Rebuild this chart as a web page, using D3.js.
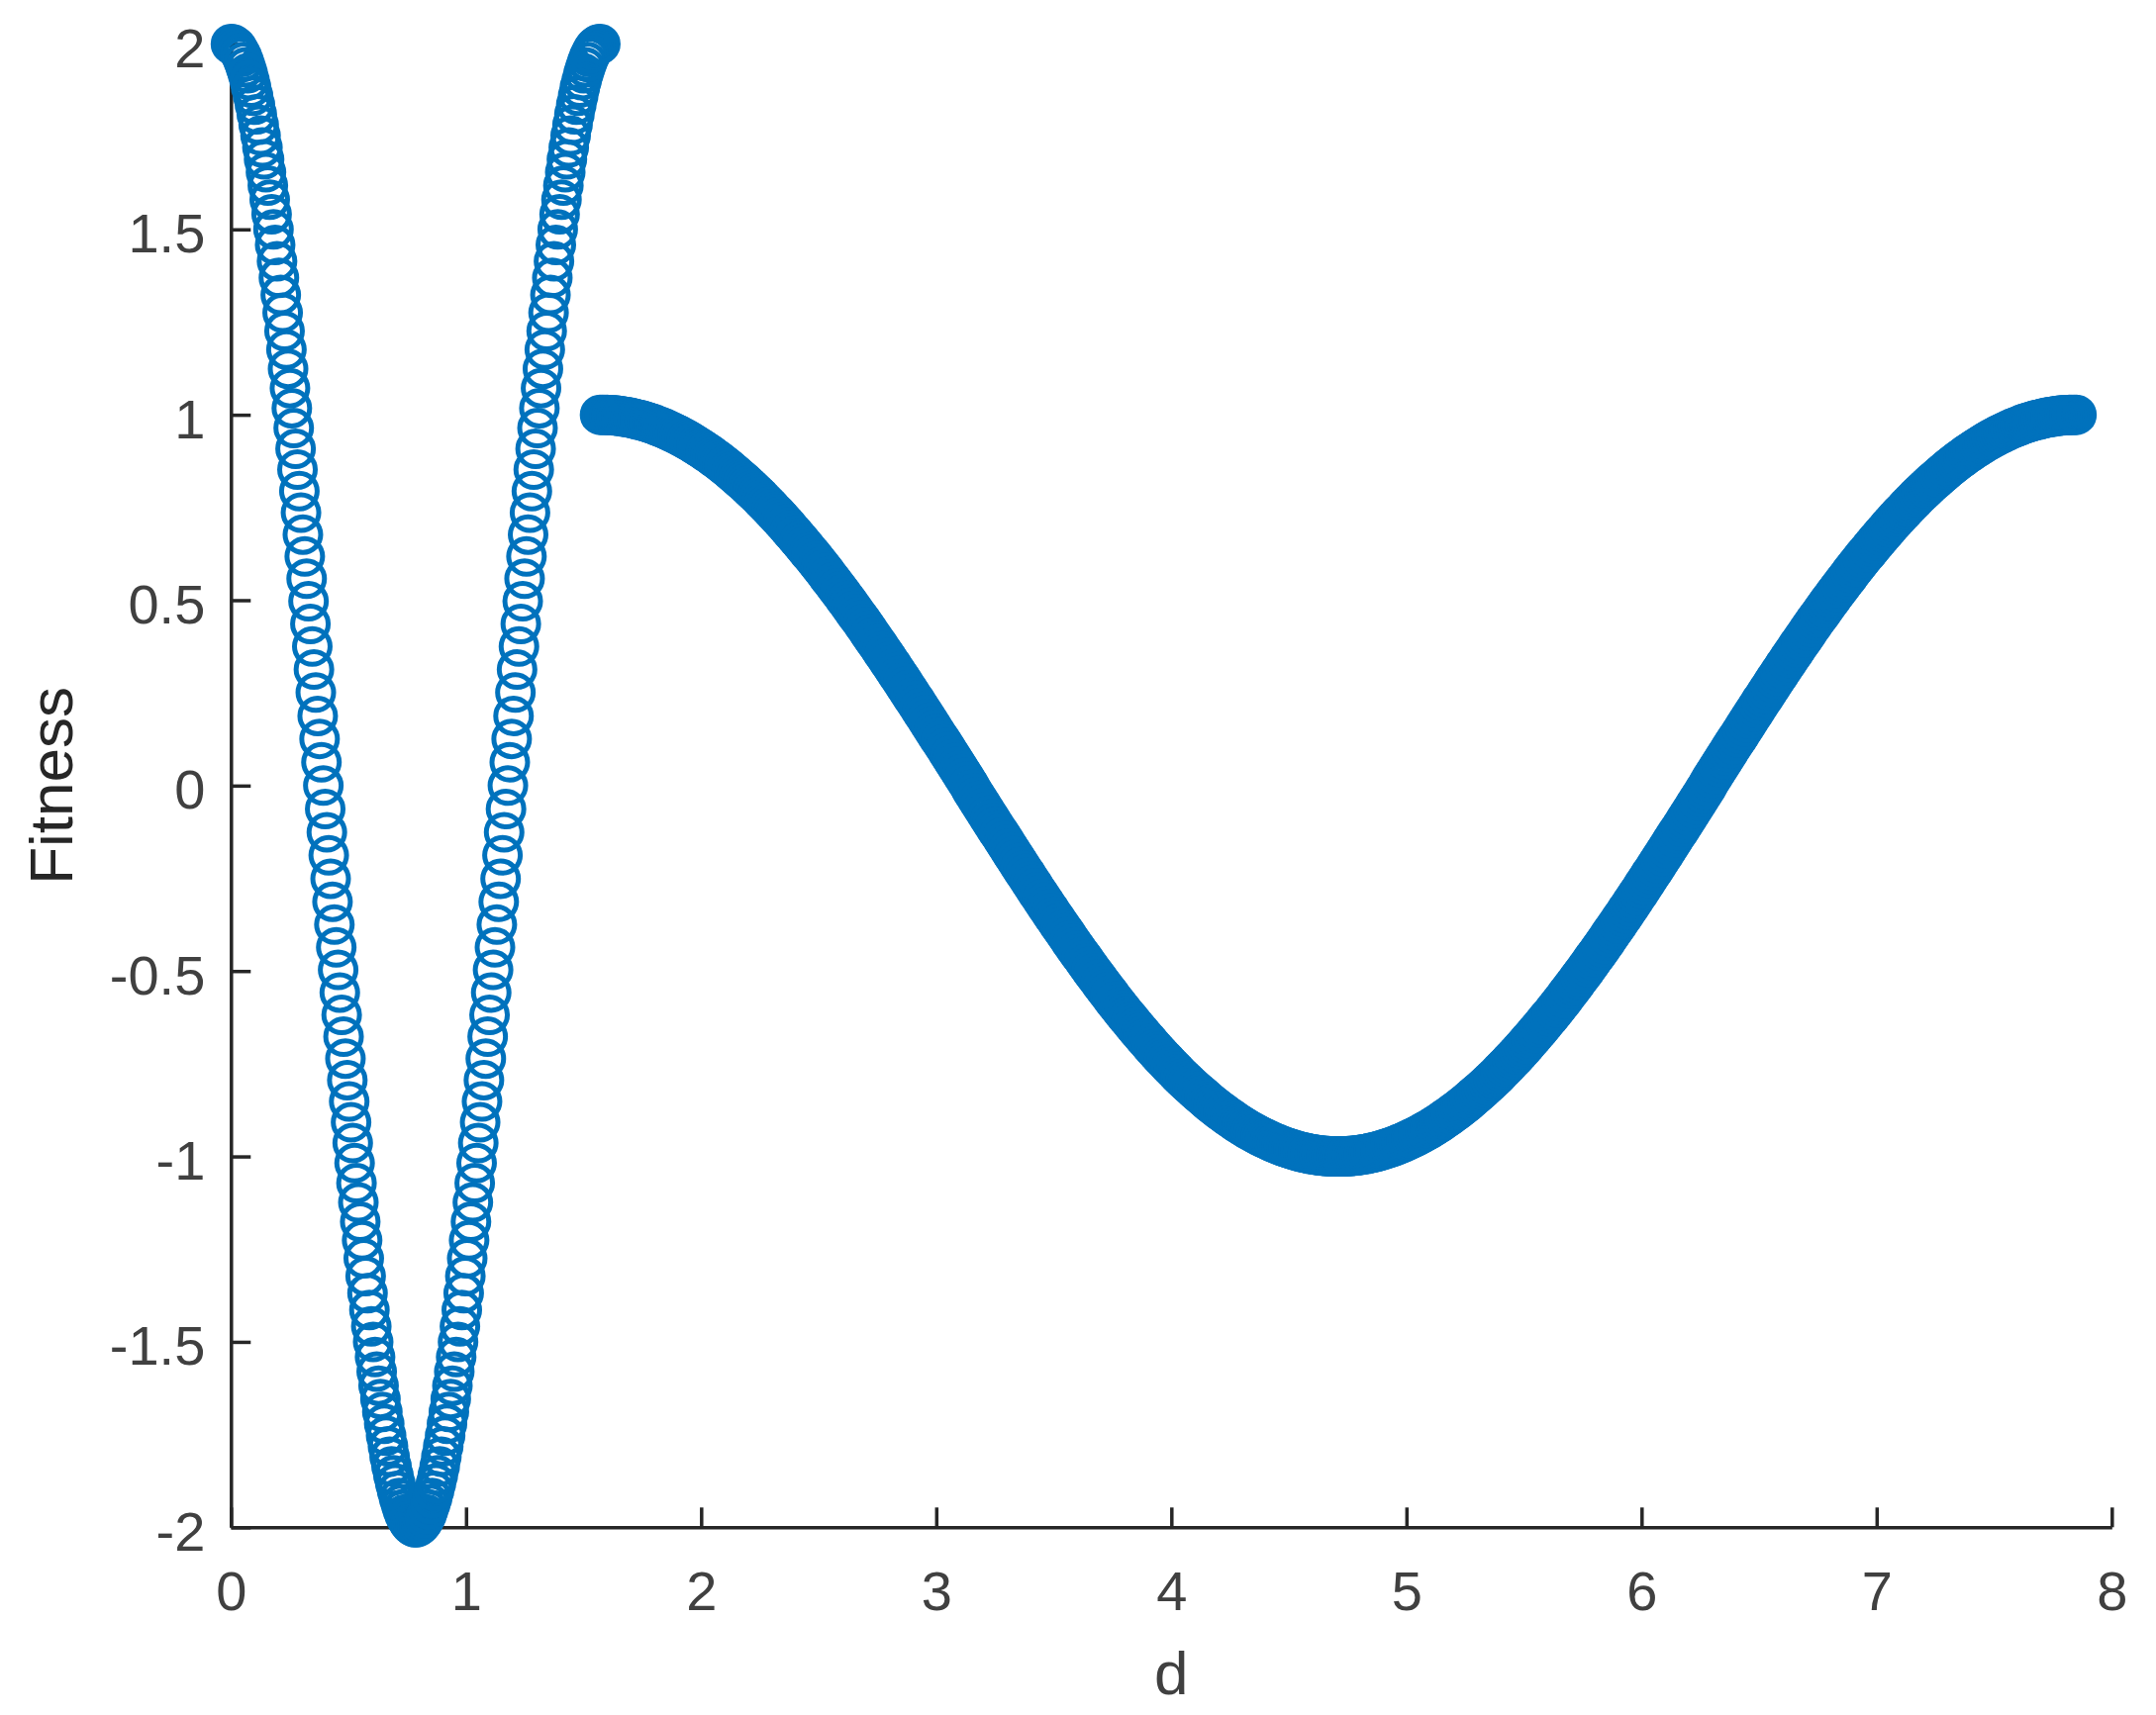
<!DOCTYPE html>
<html>
<head>
<meta charset="utf-8">
<script src="https://cdn.jsdelivr.net/npm/d3@7"></script>
<style>
  body { margin: 0; background: #fff; }
  svg { display: block; }
</style>
</head>
<body>
<div id="chart"></div>
<script>
// ticks
var xTicks = [0, 1, 2, 3, 4, 5, 6, 7, 8];
var yTicks = [-2, -1.5, -1, -0.5, 0, 0.5, 1, 1.5, 2];

// left series (open circles, d from 0 to pi/2)
var dLeft = [
  0,.008,.016,.024,.031,.039,.047,.055,.063,.071,
  .079,.086,.094,.102,.11,.118,.126,.134,.141,.149,
  .157,.165,.173,.181,.188,.196,.204,.212,.22,.228,
  .236,.243,.251,.259,.267,.275,.283,.291,.298,.306,
  .314,.322,.33,.338,.346,.353,.361,.369,.377,.385,
  .393,.401,.408,.416,.424,.432,.44,.448,.456,.463,
  .471,.479,.487,.495,.503,.511,.518,.526,.534,.542,
  .55,.558,.565,.573,.581,.589,.597,.605,.613,.62,
  .628,.636,.644,.652,.66,.668,.675,.683,.691,.699,
  .707,.715,.723,.73,.738,.746,.754,.762,.77,.778,
  .785,.793,.801,.809,.817,.825,.833,.84,.848,.856,
  .864,.872,.88,.888,.895,.903,.911,.919,.927,.935,
  .942,.95,.958,.966,.974,.982,.99,.997,1.005,1.013,
  1.021,1.029,1.037,1.045,1.052,1.06,1.068,1.076,1.084,1.092,
  1.1,1.107,1.115,1.123,1.131,1.139,1.147,1.155,1.162,1.17,
  1.178,1.186,1.194,1.202,1.21,1.217,1.225,1.233,1.241,1.249,
  1.257,1.264,1.272,1.28,1.288,1.296,1.304,1.312,1.319,1.327,
  1.335,1.343,1.351,1.359,1.367,1.374,1.382,1.39,1.398,1.406,
  1.414,1.422,1.429,1.437,1.445,1.453,1.461,1.469,1.477,1.484,
  1.492,1.5,1.508,1.516,1.524,1.532,1.539,1.547,1.555,1.563,
  1.571
];
var fitLeft = [
  2,1.999,1.996,1.991,1.984,1.975,1.965,1.952,1.937,1.921,
  1.902,1.882,1.86,1.836,1.81,1.782,1.753,1.721,1.689,1.654,
  1.618,1.58,1.541,1.5,1.458,1.414,1.369,1.323,1.275,1.226,
  1.176,1.124,1.072,1.018,.964,.908,.852,.794,.736,.677,
  .618,.558,.497,.436,.375,.313,.251,.188,.126,.063,
  0,-.063,-.126,-.188,-.251,-.313,-.375,-.436,-.497,-.558,
  -.618,-.677,-.736,-.794,-.852,-.908,-.964,-1.018,-1.072,-1.124,
  -1.176,-1.226,-1.275,-1.323,-1.369,-1.414,-1.458,-1.5,-1.541,-1.58,
  -1.618,-1.654,-1.689,-1.721,-1.753,-1.782,-1.81,-1.836,-1.86,-1.882,
  -1.902,-1.921,-1.937,-1.952,-1.965,-1.975,-1.984,-1.991,-1.996,-1.999,
  -2,-1.999,-1.996,-1.991,-1.984,-1.975,-1.965,-1.952,-1.937,-1.921,
  -1.902,-1.882,-1.86,-1.836,-1.81,-1.782,-1.753,-1.721,-1.689,-1.654,
  -1.618,-1.58,-1.541,-1.5,-1.458,-1.414,-1.369,-1.323,-1.275,-1.226,
  -1.176,-1.124,-1.072,-1.018,-.964,-.908,-.852,-.794,-.736,-.677,
  -.618,-.558,-.497,-.436,-.375,-.313,-.251,-.188,-.126,-.063,
  0,.063,.126,.188,.251,.313,.375,.436,.497,.558,
  .618,.677,.736,.794,.852,.908,.964,1.018,1.072,1.124,
  1.176,1.226,1.275,1.323,1.369,1.414,1.458,1.5,1.541,1.58,
  1.618,1.654,1.689,1.721,1.753,1.782,1.81,1.836,1.86,1.882,
  1.902,1.921,1.937,1.952,1.965,1.975,1.984,1.991,1.996,1.999,
  2
];

// right series (d from pi/2 to 5pi/2)
var dRight = [
  1.57,1.58,1.59,1.6,1.61,1.62,1.63,1.64,1.65,1.66,
  1.67,1.68,1.69,1.7,1.71,1.72,1.73,1.74,1.75,1.76,
  1.77,1.78,1.79,1.8,1.81,1.82,1.83,1.84,1.85,1.86,
  1.87,1.88,1.89,1.9,1.91,1.92,1.93,1.94,1.95,1.96,
  1.97,1.98,1.99,2,2.01,2.02,2.03,2.04,2.05,2.06,
  2.07,2.08,2.09,2.1,2.11,2.12,2.13,2.14,2.15,2.16,
  2.17,2.18,2.19,2.2,2.21,2.22,2.23,2.24,2.25,2.26,
  2.27,2.28,2.29,2.3,2.31,2.32,2.33,2.34,2.35,2.36,
  2.37,2.38,2.39,2.4,2.41,2.42,2.43,2.44,2.45,2.46,
  2.47,2.48,2.49,2.5,2.51,2.52,2.53,2.54,2.55,2.56,
  2.57,2.58,2.59,2.6,2.61,2.62,2.63,2.64,2.65,2.66,
  2.67,2.68,2.69,2.7,2.71,2.72,2.73,2.74,2.75,2.76,
  2.77,2.78,2.79,2.8,2.81,2.82,2.83,2.84,2.85,2.86,
  2.87,2.88,2.89,2.9,2.91,2.92,2.93,2.94,2.95,2.96,
  2.97,2.98,2.99,3,3.01,3.02,3.03,3.04,3.05,3.06,
  3.07,3.08,3.09,3.1,3.11,3.12,3.13,3.14,3.15,3.16,
  3.17,3.18,3.19,3.2,3.21,3.22,3.23,3.24,3.25,3.26,
  3.27,3.28,3.29,3.3,3.31,3.32,3.33,3.34,3.35,3.36,
  3.37,3.38,3.39,3.4,3.41,3.42,3.43,3.44,3.45,3.46,
  3.47,3.48,3.49,3.5,3.51,3.52,3.53,3.54,3.55,3.56,
  3.57,3.58,3.59,3.6,3.61,3.62,3.63,3.64,3.65,3.66,
  3.67,3.68,3.69,3.7,3.71,3.72,3.73,3.74,3.75,3.76,
  3.77,3.78,3.79,3.8,3.81,3.82,3.83,3.84,3.85,3.86,
  3.87,3.88,3.89,3.9,3.91,3.92,3.93,3.94,3.95,3.96,
  3.97,3.98,3.99,4,4.01,4.02,4.03,4.04,4.05,4.06,
  4.07,4.08,4.09,4.1,4.11,4.12,4.13,4.14,4.15,4.16,
  4.17,4.18,4.19,4.2,4.21,4.22,4.23,4.24,4.25,4.26,
  4.27,4.28,4.29,4.3,4.31,4.32,4.33,4.34,4.35,4.36,
  4.37,4.38,4.39,4.4,4.41,4.42,4.43,4.44,4.45,4.46,
  4.47,4.48,4.49,4.5,4.51,4.52,4.53,4.54,4.55,4.56,
  4.57,4.58,4.59,4.6,4.61,4.62,4.63,4.64,4.65,4.66,
  4.67,4.68,4.69,4.7,4.71,4.72,4.73,4.74,4.75,4.76,
  4.77,4.78,4.79,4.8,4.81,4.82,4.83,4.84,4.85,4.86,
  4.87,4.88,4.89,4.9,4.91,4.92,4.93,4.94,4.95,4.96,
  4.97,4.98,4.99,5,5.01,5.02,5.03,5.04,5.05,5.06,
  5.07,5.08,5.09,5.1,5.11,5.12,5.13,5.14,5.15,5.16,
  5.17,5.18,5.19,5.2,5.21,5.22,5.23,5.24,5.25,5.26,
  5.27,5.28,5.29,5.3,5.31,5.32,5.33,5.34,5.35,5.36,
  5.37,5.38,5.39,5.4,5.41,5.42,5.43,5.44,5.45,5.46,
  5.47,5.48,5.49,5.5,5.51,5.52,5.53,5.54,5.55,5.56,
  5.57,5.58,5.59,5.6,5.61,5.62,5.63,5.64,5.65,5.66,
  5.67,5.68,5.69,5.7,5.71,5.72,5.73,5.74,5.75,5.76,
  5.77,5.78,5.79,5.8,5.81,5.82,5.83,5.84,5.85,5.86,
  5.87,5.88,5.89,5.9,5.91,5.92,5.93,5.94,5.95,5.96,
  5.97,5.98,5.99,6,6.01,6.02,6.03,6.04,6.05,6.06,
  6.07,6.08,6.09,6.1,6.11,6.12,6.13,6.14,6.15,6.16,
  6.17,6.18,6.19,6.2,6.21,6.22,6.23,6.24,6.25,6.26,
  6.27,6.28,6.29,6.3,6.31,6.32,6.33,6.34,6.35,6.36,
  6.37,6.38,6.39,6.4,6.41,6.42,6.43,6.44,6.45,6.46,
  6.47,6.48,6.49,6.5,6.51,6.52,6.53,6.54,6.55,6.56,
  6.57,6.58,6.59,6.6,6.61,6.62,6.63,6.64,6.65,6.66,
  6.67,6.68,6.69,6.7,6.71,6.72,6.73,6.74,6.75,6.76,
  6.77,6.78,6.79,6.8,6.81,6.82,6.83,6.84,6.85,6.86,
  6.87,6.88,6.89,6.9,6.91,6.92,6.93,6.94,6.95,6.96,
  6.97,6.98,6.99,7,7.01,7.02,7.03,7.04,7.05,7.06,
  7.07,7.08,7.09,7.1,7.11,7.12,7.13,7.14,7.15,7.16,
  7.17,7.18,7.19,7.2,7.21,7.22,7.23,7.24,7.25,7.26,
  7.27,7.28,7.29,7.3,7.31,7.32,7.33,7.34,7.35,7.36,
  7.37,7.38,7.39,7.4,7.41,7.42,7.43,7.44,7.45,7.46,
  7.47,7.48,7.49,7.5,7.51,7.52,7.53,7.54,7.55,7.56,
  7.57,7.58,7.59,7.6,7.61,7.62,7.63,7.64,7.65,7.66,
  7.67,7.68,7.69,7.7,7.71,7.72,7.73,7.74,7.75,7.76,
  7.77,7.78,7.79,7.8,7.81,7.82,7.83,7.84,7.85
];
var fitRight = [
  1,1,1,1,.999,.999,.998,.998,.997,.996,
  .995,.994,.993,.992,.99,.989,.987,.986,.984,.982,
  .98,.978,.976,.974,.971,.969,.966,.964,.961,.958,
  .955,.952,.949,.946,.943,.939,.936,.932,.929,.925,
  .921,.917,.913,.909,.905,.9,.896,.892,.887,.882,
  .878,.873,.868,.863,.858,.853,.847,.842,.836,.831,
  .825,.82,.814,.808,.802,.796,.79,.784,.778,.771,
  .765,.758,.752,.745,.738,.732,.725,.718,.711,.704,
  .697,.689,.682,.675,.667,.66,.652,.645,.637,.629,
  .622,.614,.606,.598,.59,.582,.574,.565,.557,.549,
  .54,.532,.523,.515,.506,.498,.489,.48,.471,.462,
  .454,.445,.436,.427,.418,.408,.399,.39,.381,.372,
  .362,.353,.344,.334,.325,.315,.306,.296,.287,.277,
  .267,.258,.248,.238,.229,.219,.209,.199,.19,.18,
  .17,.16,.15,.14,.13,.121,.111,.101,.091,.081,
  .071,.061,.051,.041,.031,.021,.011,.001,-.011,-.021,
  -.031,-.041,-.051,-.061,-.071,-.081,-.091,-.101,-.111,-.121,
  -.13,-.14,-.15,-.16,-.17,-.18,-.19,-.199,-.209,-.219,
  -.229,-.238,-.248,-.258,-.267,-.277,-.287,-.296,-.306,-.315,
  -.325,-.334,-.344,-.353,-.362,-.372,-.381,-.39,-.399,-.408,
  -.418,-.427,-.436,-.445,-.454,-.462,-.471,-.48,-.489,-.498,
  -.506,-.515,-.523,-.532,-.54,-.549,-.557,-.565,-.574,-.582,
  -.59,-.598,-.606,-.614,-.622,-.629,-.637,-.645,-.652,-.66,
  -.667,-.675,-.682,-.689,-.697,-.704,-.711,-.718,-.725,-.732,
  -.738,-.745,-.752,-.758,-.765,-.771,-.778,-.784,-.79,-.796,
  -.802,-.808,-.814,-.82,-.825,-.831,-.836,-.842,-.847,-.853,
  -.858,-.863,-.868,-.873,-.878,-.882,-.887,-.892,-.896,-.9,
  -.905,-.909,-.913,-.917,-.921,-.925,-.929,-.932,-.936,-.939,
  -.943,-.946,-.949,-.952,-.955,-.958,-.961,-.964,-.966,-.969,
  -.971,-.974,-.976,-.978,-.98,-.982,-.984,-.986,-.987,-.989,
  -.99,-.992,-.993,-.994,-.995,-.996,-.997,-.998,-.998,-.999,
  -.999,-1,-1,-1,-1,-1,-1,-1,-.999,-.999,
  -.998,-.998,-.997,-.996,-.995,-.994,-.993,-.992,-.99,-.989,
  -.987,-.986,-.984,-.982,-.98,-.978,-.976,-.974,-.971,-.969,
  -.966,-.964,-.961,-.958,-.955,-.952,-.949,-.946,-.943,-.939,
  -.936,-.932,-.929,-.925,-.921,-.917,-.913,-.909,-.905,-.9,
  -.896,-.892,-.887,-.882,-.878,-.873,-.868,-.863,-.858,-.853,
  -.847,-.842,-.836,-.831,-.825,-.82,-.814,-.808,-.802,-.796,
  -.79,-.784,-.778,-.771,-.765,-.758,-.752,-.745,-.738,-.732,
  -.725,-.718,-.711,-.704,-.697,-.689,-.682,-.675,-.667,-.66,
  -.652,-.645,-.637,-.629,-.622,-.614,-.606,-.598,-.59,-.582,
  -.574,-.565,-.557,-.549,-.54,-.532,-.523,-.515,-.506,-.498,
  -.489,-.48,-.471,-.462,-.454,-.445,-.436,-.427,-.418,-.408,
  -.399,-.39,-.381,-.372,-.362,-.353,-.344,-.334,-.325,-.315,
  -.306,-.296,-.287,-.277,-.267,-.258,-.248,-.238,-.229,-.219,
  -.209,-.199,-.19,-.18,-.17,-.16,-.15,-.14,-.13,-.121,
  -.111,-.101,-.091,-.081,-.071,-.061,-.051,-.041,-.031,-.021,
  -.011,-.001,.011,.021,.031,.041,.051,.061,.071,.081,
  .091,.101,.111,.121,.13,.14,.15,.16,.17,.18,
  .19,.199,.209,.219,.229,.238,.248,.258,.267,.277,
  .287,.296,.306,.315,.325,.334,.344,.353,.362,.372,
  .381,.39,.399,.408,.418,.427,.436,.445,.454,.462,
  .471,.48,.489,.498,.506,.515,.523,.532,.54,.549,
  .557,.565,.574,.582,.59,.598,.606,.614,.622,.629,
  .637,.645,.652,.66,.667,.675,.682,.689,.697,.704,
  .711,.718,.725,.732,.738,.745,.752,.758,.765,.771,
  .778,.784,.79,.796,.802,.808,.814,.82,.825,.831,
  .836,.842,.847,.853,.858,.863,.868,.873,.878,.882,
  .887,.892,.896,.9,.905,.909,.913,.917,.921,.925,
  .929,.932,.936,.939,.943,.946,.949,.952,.955,.958,
  .961,.964,.966,.969,.971,.974,.976,.978,.98,.982,
  .984,.986,.987,.989,.99,.992,.993,.994,.995,.996,
  .997,.998,.998,.999,.999,1,1,1,1
];

if (dLeft.length !== fitLeft.length) console.error("left length", dLeft.length, fitLeft.length);
if (dRight.length !== fitRight.length) console.error("right length", dRight.length, fitRight.length);

var width = 2178,
    height = 1733;

var markerColor = "#0072BD",
    axisColor = "#262626",
    textColor = "#404040",
    font = "'Liberation Sans', Arial, Helvetica, sans-serif";

var x = d3.scaleLinear()
  .domain([0, 8])
  .range([233.3, 2133.3]);

var y = d3.scaleLinear()
  .domain([-2, 2])
  .range([1543.3, 44.4]);

var svg = d3.select("#chart").append("svg")
  .attr("width", width)
  .attr("height", height)
  .style("background", "#fff");

// axes (drawn under the markers)
var gx = svg.append("g")
  .attr("transform", "translate(0," + y(-2) + ")")
  .call(d3.axisBottom(x)
    .tickValues(xTicks)
    .tickFormat(function(d) { return String(d); })
    .tickSizeInner(-20)
    .tickSizeOuter(0)
    .tickPadding(44));

var gy = svg.append("g")
  .attr("transform", "translate(" + x(0) + ",0)")
  .call(d3.axisLeft(y)
    .tickValues(yTicks)
    .tickFormat(function(d) { return String(d); })
    .tickSizeInner(-20)
    .tickSizeOuter(0)
    .tickPadding(26));

[gx, gy].forEach(function(g) {
  g.select(".domain").attr("stroke", axisColor).attr("stroke-width", 3.5);
  g.selectAll(".tick line").attr("stroke", axisColor).attr("stroke-width", 3.5);
  g.selectAll(".tick text")
    .attr("fill", textColor)
    .style("font-family", font)
    .style("font-size", "56px");
});
gy.selectAll(".tick text").attr("dy", "0.41em");

// axis labels
svg.append("text")
  .attr("x", x(4))
  .attr("y", 1712)
  .attr("text-anchor", "middle")
  .attr("fill", textColor)
  .style("font-family", font)
  .style("font-size", "62px")
  .text("d");

svg.append("text")
  .attr("transform", "translate(73," + y(0) + ") rotate(-90)")
  .attr("text-anchor", "middle")
  .attr("fill", axisColor)
  .style("font-family", font)
  .style("font-size", "62px")
  .text("Fitness");

// markers
function drawSeries(ds, fs) {
  svg.append("g")
    .selectAll("circle")
    .data(ds)
    .enter().append("circle")
    .attr("cx", function(d) { return x(d); })
    .attr("cy", function(d, i) { return y(fs[i]); })
    .attr("r", 18)
    .attr("fill", "none")
    .attr("stroke", markerColor)
    .attr("stroke-width", 5);
}

drawSeries(dLeft, fitLeft);
drawSeries(dRight, fitRight);
</script>
</body>
</html>
